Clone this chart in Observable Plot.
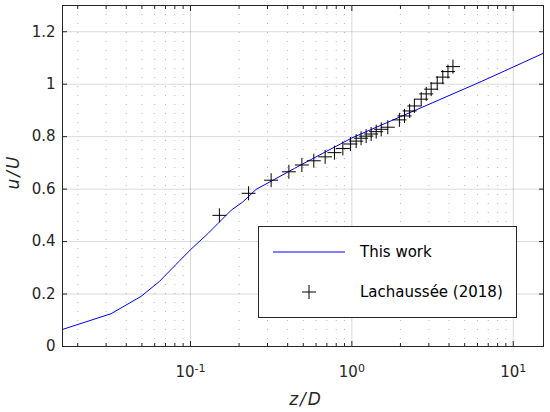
<!DOCTYPE html>
<html>
<head>
<meta charset="utf-8">
<script src="https://cdn.jsdelivr.net/npm/d3@7"></script>
<script src="https://cdn.jsdelivr.net/npm/@observablehq/plot@0.6"></script>
<style>
  html, body { margin: 0; padding: 0; background: #fff; }
  #chart svg { display: block; }
</style>
</head>
<body>
<div id="chart"></div>
<script>
// Model curve ("This work")
const lineZ = [0.0161, 0.0322, 0.0494, 0.0642, 0.0814, 0.100, 0.128, 0.148, 0.179, 0.211, 0.255, 0.331, 0.441, 0.559, 1.0, 2.0, 6.33, 15.4];
const lineU = [0.065, 0.125, 0.191, 0.248, 0.313, 0.369, 0.430, 0.469, 0.520, 0.551, 0.599, 0.637, 0.679, 0.713, 0.795, 0.876, 1.010, 1.118];

// Experimental data (Lachaussée 2018)
const expZ = [0.151, 0.229, 0.316, 0.407, 0.49, 0.581, 0.683, 0.78, 0.879, 0.98, 1.063, 1.14, 1.226, 1.317, 1.415, 1.52, 1.67, 1.97, 2.12, 2.28, 2.44, 2.69, 2.89, 3.1, 3.38, 3.66, 3.94, 4.23];
const expU = [0.50, 0.584, 0.634, 0.666, 0.692, 0.708, 0.723, 0.739, 0.755, 0.772, 0.783, 0.794, 0.802, 0.81, 0.819, 0.828, 0.836, 0.864, 0.879, 0.898, 0.917, 0.943, 0.963, 0.981, 1.004, 1.027, 1.048, 1.067];

// Ticks
const xMajor = [0.1, 1, 10];
const xMajorExp = ["-1", "0", "1"];
const xMinor = [0.02,0.03,0.04,0.05,0.06,0.07,0.08,0.09,0.2,0.3,0.4,0.5,0.6,0.7,0.8,0.9,2,3,4,5,6,7,8,9];
const yTicks = [0, 0.2, 0.4, 0.6, 0.8, 1, 1.2];
const yTickLabels = ["0", "0.2", "0.4", "0.6", "0.8", "1", "1.2"];

const seriesNames = ["This work", "Lachaussée (2018)"];

const lineData = lineZ.map((z, i) => ({z, u: lineU[i]}));
const expData = expZ.map((z, i) => ({z, u: expU[i]}));

const plusSymbol = {
  draw(ctx, size) {
    const r = Math.sqrt(size / Math.PI);
    ctx.moveTo(-r, 0); ctx.lineTo(r, 0);
    ctx.moveTo(0, -r); ctx.lineTo(0, r);
  }
};

const axisColor = "#262626";
const font = "DejaVu Sans, Verdana, sans-serif";

const tickOnly = {fill: "none", label: null, stroke: axisColor};

const plot = Plot.plot({
  width: 550,
  height: 412,
  marginLeft: 62,
  marginRight: 7,
  marginTop: 5,
  marginBottom: 66,
  style: {fontFamily: font, fontSize: "15px", color: axisColor, background: "#fff"},
  x: {type: "log", domain: [0.0161, 15.4]},
  y: {domain: [0, 1.3]},
  marks: [
    // minor dotted x grid
    Plot.gridX(xMinor, {stroke: "#000", strokeOpacity: 0.28, strokeDasharray: "1,8", strokeWidth: 1}),
    // major grid
    Plot.gridX(xMajor, {stroke: "#000", strokeOpacity: 0.15, strokeWidth: 1}),
    Plot.gridY(yTicks, {stroke: "#000", strokeOpacity: 0.15, strokeWidth: 1}),
    // model line
    Plot.line(lineData, {x: "z", y: "u", stroke: "#0000ff", strokeWidth: 1, clip: true}),
    // experimental crosses
    Plot.dot(expData, {x: "z", y: "u", symbol: plusSymbol, r: 7, stroke: "#000", fill: "none", strokeWidth: 1}),
    // inward ticks
    Plot.axisX(xMajor, {anchor: "bottom", tickSize: -5, ...tickOnly}),
    Plot.axisX(xMinor, {anchor: "bottom", tickSize: -3, ...tickOnly}),
    Plot.axisX(xMajor, {anchor: "top", tickSize: -5, ...tickOnly}),
    Plot.axisX(xMinor, {anchor: "top", tickSize: -3, ...tickOnly}),
    Plot.axisY(yTicks, {anchor: "left", tickSize: -5, ...tickOnly}),
    Plot.axisY(yTicks, {anchor: "right", tickSize: -5, ...tickOnly}),
    // tick labels
    Plot.axisX(xMajor, {anchor: "bottom", tickSize: 0, tickPadding: 20, tickFormat: () => "10", label: null, fill: axisColor}),
    Plot.axisY(yTicks, {anchor: "left", tickSize: 0, tickPadding: 7, tickFormat: (d) => yTickLabels[yTicks.indexOf(d)], label: null, fill: axisColor}),
    Plot.frame({stroke: axisColor, strokeWidth: 1})
  ]
});

document.getElementById("chart").appendChild(plot);

const svg = d3.select(plot);

// superscripts for log tick labels
svg.selectAll("[aria-label='x-axis tick label'] text").each(function(d, i) {
  const t = d3.select(this);
  t.text("10");
  t.append("tspan").attr("dy", "-0.5em").attr("font-size", "11px").text(xMajorExp[i]);
});

// axis titles
svg.append("text")
  .attr("x", 306).attr("y", 405)
  .attr("text-anchor", "middle")
  .attr("font-family", font).attr("font-size", "17px").attr("font-style", "italic")
  .attr("fill", axisColor)
  .attr("letter-spacing", "2px")
  .text("z/D");
svg.append("text")
  .attr("transform", "translate(19,172) rotate(-90)")
  .attr("text-anchor", "middle")
  .attr("font-family", font).attr("font-size", "17px").attr("font-style", "italic")
  .attr("fill", axisColor)
  .attr("letter-spacing", "2px")
  .text("u/U");

// legend
const lg = svg.append("g").attr("font-family", font).attr("font-size", "15px").attr("fill", "#000").attr("text-anchor", "start");
lg.append("rect").attr("x", 258.5).attr("y", 226.5).attr("width", 258).attr("height", 91)
  .attr("fill", "#fff").attr("stroke", axisColor).attr("stroke-width", 1);
lg.append("line").attr("x1", 273).attr("x2", 345).attr("y1", 252).attr("y2", 252)
  .attr("stroke", "#0000ff").attr("stroke-width", 1);
lg.append("text").attr("x", 360).attr("y", 257).text(seriesNames[0]);
lg.append("path").attr("d", "M302,292H316M309,285V299").attr("stroke", "#000").attr("stroke-width", 1).attr("fill", "none");
lg.append("text").attr("x", 360).attr("y", 297).text(seriesNames[1]);
</script>
</body>
</html>
